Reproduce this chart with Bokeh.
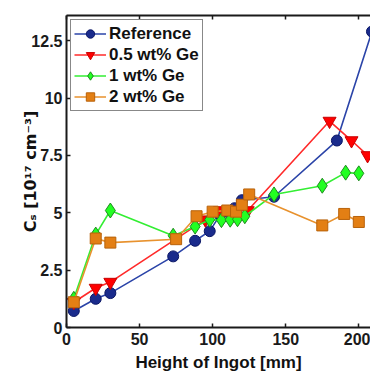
from bokeh.plotting import figure
from bokeh.models import (ColumnDataSource, Range1d, FixedTicker, LinearAxis,
                          CustomJSTickFormatter, Legend)
from bokeh.embed import file_html
from bokeh.resources import INLINE

# ---- data ----
ref_x = [5, 20, 30, 73, 88, 98, 105, 110, 115, 120, 142, 185, 209]
ref_y = [0.72, 1.25, 1.5, 3.1, 3.78, 4.2, 4.9, 5.05, 5.2, 5.55, 5.7, 8.15, 12.9]

ge05_x = [5, 20, 30, 95, 105, 115, 124, 180, 195, 206]
ge05_y = [1.1, 1.72, 1.98, 4.7, 5.1, 5.1, 5.1, 9.0, 8.15, 7.5]

ge1_x = [5, 20, 30, 73, 88, 98, 106, 112, 117, 122, 142, 175, 191, 200]
ge1_y = [1.25, 4.05, 5.1, 4.0, 4.4, 4.7, 4.68, 4.7, 4.72, 4.85, 5.8, 6.18, 6.75, 6.72]

ge2_x = [5, 20, 30, 75, 89, 100, 110, 116, 120, 125, 175, 190, 200]
ge2_y = [1.1, 3.88, 3.7, 3.85, 4.85, 5.05, 5.1, 5.05, 5.35, 5.8, 4.45, 4.95, 4.6]

series_names = ["Reference", "0.5 wt% Ge", "1 wt% Ge", "2 wt% Ge"]
x_ticks = [0, 50, 100, 150, 200]
y_ticks = [0, 2.5, 5, 7.5, 10, 12.5]
x_label = "Height of Ingot [mm]"
y_label = "C\u209b [10\u00b9\u2077 cm\u207b\u00b3]"

FONT = "Liberation Sans"

p = figure(width=370, height=374, output_backend="svg", toolbar_location=None,
           x_range=Range1d(0, 208), y_range=Range1d(0, 13.6),
           min_border_left=66, min_border_right=0, min_border_top=15,
           min_border_bottom=45)
p.outline_line_color = None
p.xgrid.grid_line_color = None
p.ygrid.grid_line_color = None
p.background_fill_color = "white"
p.border_fill_color = "white"

fmt = CustomJSTickFormatter(code="return String(tick)")
for ax in (p.xaxis[0], p.yaxis[0]):
    ax.axis_line_color = "#1a1a1a"
    ax.axis_line_width = 2
    ax.major_tick_line_color = "#1a1a1a"
    ax.major_tick_line_width = 1.5
    ax.major_tick_in = 4
    ax.major_tick_out = 0
    ax.minor_tick_line_color = None
    ax.major_label_text_font = FONT
    ax.major_label_text_font_style = "bold"
    ax.major_label_text_font_size = "16px"
    ax.major_label_text_color = "#1a1a1a"
    ax.formatter = fmt
    ax.axis_label_text_color = "#111111"
    ax.axis_label_text_font_style = "bold"
p.xaxis[0].ticker = FixedTicker(ticks=x_ticks)
p.yaxis[0].ticker = FixedTicker(ticks=y_ticks)
p.xaxis[0].major_label_standoff = 5
p.yaxis[0].major_label_standoff = 4

p.xaxis[0].axis_label = x_label
p.xaxis[0].axis_label_text_font = FONT
p.xaxis[0].axis_label_text_font_size = "17px"
p.xaxis[0].axis_label_standoff = 5

p.yaxis[0].axis_label = y_label
p.yaxis[0].axis_label_text_font = "DejaVu Sans"
p.yaxis[0].axis_label_text_font_size = "16px"
p.yaxis[0].axis_label_standoff = -12

top = LinearAxis(ticker=FixedTicker(ticks=x_ticks),
                 formatter=CustomJSTickFormatter(code="return ''"))
top.axis_line_color = "#1a1a1a"
top.axis_line_width = 2
top.major_tick_line_color = "#1a1a1a"
top.major_tick_line_width = 1.5
top.major_tick_in = 4
top.major_tick_out = 0
top.minor_tick_line_color = None
top.major_label_text_font_size = "0px"
top.major_label_standoff = 0
p.add_layout(top, "above")

styles = [
    (ref_x, ref_y, "circle", 11, "#1a2b8c", "#0b1766", "#2b44a8"),
    (ge05_x, ge05_y, "inverted_triangle", 13, "#ff0000", "#c80000", "#ff2a2a"),
    (ge1_x, ge1_y, "diamond", 15, "#22ff22", "#1f8a1f", "#33ee33"),
    (ge2_x, ge2_y, "square", 11, "#e37f14", "#b8620a", "#e8922e"),
]

items = []
for name, (xs, ys, marker, size, fill, edge, lc) in zip(series_names, styles):
    src = ColumnDataSource(dict(x=xs, y=ys))
    l = p.line("x", "y", source=src, line_color=lc, line_width=1.6)
    s = p.scatter("x", "y", source=src, marker=marker, size=size,
                  fill_color=fill, line_color=edge, line_width=1)
    items.append((name, [l, s]))

legend = Legend(items=items, location="top_left", margin=4, padding=3,
                spacing=0, label_height=21, glyph_height=21, glyph_width=32,
                label_standoff=3,
                label_text_font=FONT, label_text_font_style="bold",
                label_text_font_size="17px", label_text_color="#111111",
                border_line_color="#111111", border_line_width=1.5,
                background_fill_color="white", background_fill_alpha=1)
p.add_layout(legend, "center")

open("out.html", "w").write(file_html(p, INLINE))
